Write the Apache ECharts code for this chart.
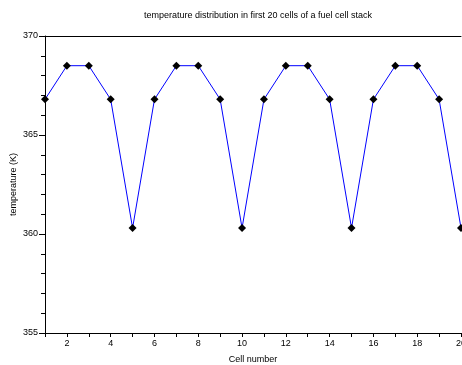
<!DOCTYPE html>
<html>
<head>
<meta charset="utf-8">
<script src="https://cdn.jsdelivr.net/npm/echarts@6/dist/echarts.min.js"></script>
<style>
  html, body { margin: 0; padding: 0; background: #fff; }
  #chart { width: 462px; height: 365px; }
</style>
</head>
<body>
<div id="chart"></div>
<script>
// cell numbers and temperatures (K)
var cells = [1, 2, 3, 4, 5, 6, 7, 8, 9, 10, 11, 12, 13, 14, 15, 16, 17, 18, 19, 20]
var temps = [366.8, 368.5, 368.5, 366.8, 360.3, 366.8, 368.5, 368.5, 366.8, 360.3,
             366.8, 368.5, 368.5, 366.8, 360.3, 366.8, 368.5, 368.5, 366.8, 360.3]
var yTicks = [355, 360, 365, 370]

var points = []
for (var i = 0; i < cells.length; i++) {
    points.push([cells[i], temps[i]])
}

var font = 'Liberation Sans, Arial, sans-serif'

var option = {
    animation: false,
    title: {
        text: 'temperature distribution in first 20 cells of a fuel cell stack',
        left: 253,
        textAlign: 'center',
        top: 6,
        textStyle: { fontSize: 9, fontWeight: 'normal', color: '#000', fontFamily: font }
    },
    grid: { left: 45, right: 1, top: 36, bottom: 32, containLabel: false, outerBoundsMode: 'none' },
    xAxis: [{
        type: 'value',
        min: 1,
        max: 20,
        interval: 1,
        name: 'Cell number',
        nameLocation: 'middle',
        nameGap: 22,
        nameMoveOverlap: false,
        nameTextStyle: { fontSize: 9, color: '#000', fontFamily: font },
        axisLine: { lineStyle: { color: '#000', width: 1 } },
        axisTick: { length: 4, lineStyle: { color: '#000' } },
        axisLabel: {
            fontSize: 9, color: '#000', fontFamily: font, margin: 6,
            showMinLabel: true, showMaxLabel: true, hideOverlap: false,
            formatter: function (v) { return v % 2 === 0 ? String(v) : '' }
        },
        splitLine: { show: false }
    }, {
        type: 'value',
        position: 'top',
        min: 1,
        max: 20,
        axisLine: { show: true, lineStyle: { color: '#000', width: 1 } },
        axisTick: { show: false },
        axisLabel: { show: false },
        splitLine: { show: false }
    }],
    yAxis: {
        type: 'value',
        min: yTicks[0],
        max: yTicks[yTicks.length - 1],
        interval: 5,
        name: 'temperature (K)',
        nameLocation: 'middle',
        nameGap: 27,
        nameMoveOverlap: false,
        nameTextStyle: { fontSize: 9, color: '#000', fontFamily: font },
        axisLine: { show: true, lineStyle: { color: '#000', width: 1 } },
        axisTick: { show: true, length: 6, lineStyle: { color: '#000' } },
        minorTick: { show: true, splitNumber: 5, length: 4, lineStyle: { color: '#000' } },
        axisLabel: { fontSize: 9, color: '#000', fontFamily: font, margin: 7 },
        splitLine: { show: false }
    },
    series: [{
        type: 'line',
        data: points,
        symbol: 'diamond',
        symbolSize: 8,
        itemStyle: { color: '#000' },
        lineStyle: { color: '#0000ff', width: 1 },
        clip: false
    }]
}

var chart = echarts.init(document.getElementById('chart'))
chart.setOption(option)
</script>
</body>
</html>
